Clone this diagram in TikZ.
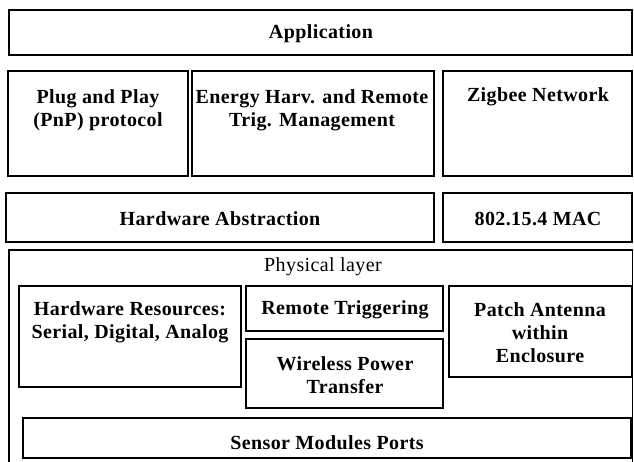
\documentclass[tikz,border=0pt]{standalone}
\usepackage{fontspec}
\setmainfont{Liberation Serif}[LetterSpace=2]
\usetikzlibrary{fit}
\begin{document}
\begin{tikzpicture}[x=1pt,y=-1pt,
  box/.style={draw, line width=1.5pt, inner sep=0pt, fit={#1}},
  lbl/.style={font=\bfseries\fontsize{20}{23}\selectfont, align=center, inner sep=0pt},
  plain/.style={font=\fontsize{20}{23}\selectfont, align=center, inner sep=0pt}]
\useasboundingbox (0,0) rectangle (634,462);
\clip (0,0) rectangle (634,462);
% boxes
\node[box={(9,10) (632,55)}] (app) {};
\node[box={(8,71) (188,176)}] (pnp) {};
\node[box={(192,71) (434,176)}] (ener) {};
\node[box={(443,71) (632,176)}] (zig) {};
\node[box={(6,193) (434,242)}] (hwa) {};
\node[box={(443,193) (632,242)}] (mac) {};
\node[box={(9,250) (632.5,475)}] (phys) {};
\node[box={(19,286) (241,387)}] (hwr) {};
\node[box={(246,286) (443,331)}] (rt) {};
\node[box={(246,339) (443,408)}] (wpt) {};
\node[box={(449,286) (632,377)}] (pa) {};
\node[box={(23,418) (631,458)}] (smp) {};
% labels
\node[lbl] (tapp) at (321,34) {Application};
\node[lbl] (tpnp) at (98,110) {Plug and Play\\(PnP) protocol};
\node[lbl] (tener) at (312,110) {Energy Harv. and Remote\\Trig. Management};
\node[lbl] (tzig) at (538,97) {Zigbee Network};
\node[lbl] (thwa) at (220,219) {Hardware Abstraction};
\node[lbl] (tmac) at (538,219) {802.15.4 MAC};
\node[plain] (tphys) at (323,267) {Physical layer};
\node[lbl] (thwr) at (130,322) {Hardware Resources:\\Serial, Digital, Analog};
\node[lbl] (trt) at (345,310) {Remote Triggering};
\node[lbl] (twpt) at (345,375) {Wireless Power\\Transfer};
\node[lbl] (tpa) at (540,333) {Patch Antenna\\within\\Enclosure};
\node[lbl] (tsmp) at (327,443) {Sensor Modules Ports};
\end{tikzpicture}
\end{document}
